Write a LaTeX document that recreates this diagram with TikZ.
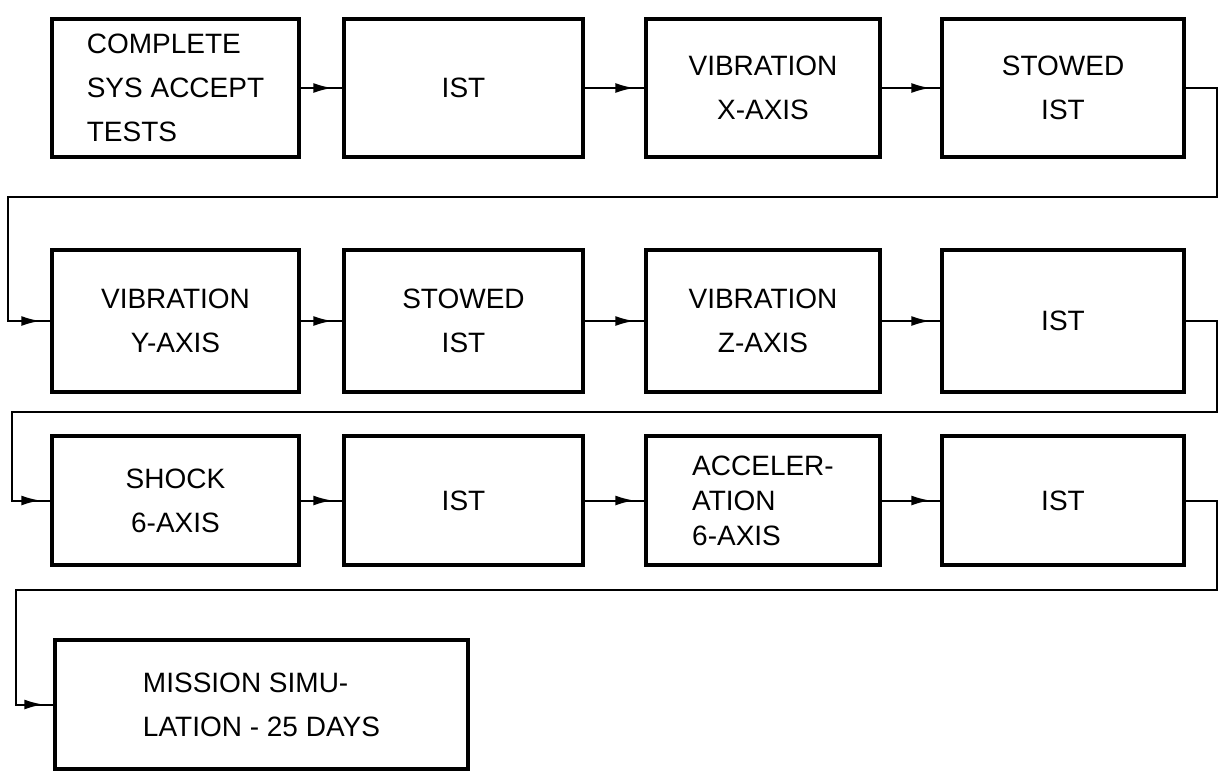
\documentclass[tikz,border=0pt]{standalone}
\usepackage{fontspec}
\setmainfont{Liberation Sans}
\usetikzlibrary{arrows.meta,positioning,decorations.markings}

\begin{document}
\begin{tikzpicture}[x=1pt,y=-1pt,font=\fontsize{28}{44}\selectfont,test/.style={draw,line width=3.5pt,align=center,minimum width=240pt,minimum height=138pt,inner sep=4pt},flow/.style={line width=2pt,decoration={markings,mark=at position -10pt with {\arrow{Latex[length=19pt,width=10pt]}}},postaction={decorate}}]
\useasboundingbox (0,0) rectangle (1222,771);
% first row
\node[test,align=left,minimum width=247pt] (accept) at (175.5,88){COMPLETE\\SYS ACCEPT\\TESTS};
\node[test,minimum width=239pt] (ist1) at (463.5,88){IST};
\node[test,minimum width=234pt] (vibx) at (763,88){VIBRATION\\X-AXIS};
\node[test,minimum width=242pt] (stow1) at (1063,88){STOWED\\IST};
% second row
\node[test,minimum width=247pt,minimum height=142pt] (viby) at (175.5,321){VIBRATION\\Y-AXIS};
\node[test,minimum width=239pt,minimum height=142pt] (stow2) at (463.5,321){STOWED\\IST};
\node[test,minimum width=234pt,minimum height=142pt] (vibz) at (763,321){VIBRATION\\Z-AXIS};
\node[test,minimum width=242pt,minimum height=142pt] (ist2) at (1063,321){IST};
% third row
\node[test,minimum width=247pt,minimum height=129pt] (shock) at (175.5,500.5){SHOCK\\6-AXIS};
\node[test,minimum width=239pt,minimum height=129pt] (ist3) at (463.5,500.5){IST};
\node[test,align=left,minimum width=234pt,minimum height=129pt,font=\fontsize{28}{35}\selectfont] (accel) at (763,500.5){ACCELER-\\ATION\\6-AXIS};
\node[test,minimum width=242pt,minimum height=129pt] (ist4) at (1063,500.5){IST};
% last row
\node[test,align=left,minimum width=413pt,minimum height=129pt] (mission) at (261.5,704.5){MISSION SIMU-\\LATION - 25 DAYS};
% turn points
\coordinate (r1) at (1217,197);\coordinate (l1) at (8,197);
\coordinate (r2) at (1217,412);\coordinate (l2) at (12,412);
\coordinate (r3) at (1217,590);\coordinate (l3) at (16,590);
\draw[flow] (accept) -- (ist1);\draw[flow] (ist1) -- (vibx);\draw[flow] (vibx) -- (stow1);
\draw[flow] (stow1.east) -| (r1) -- (l1) |- (viby.west);
\draw[flow] (viby) -- (stow2);\draw[flow] (stow2) -- (vibz);\draw[flow] (vibz) -- (ist2);
\draw[flow] (ist2.east) -| (r2) -- (l2) |- (shock.west);
\draw[flow] (shock) -- (ist3);\draw[flow] (ist3) -- (accel);\draw[flow] (accel) -- (ist4);
\draw[flow] (ist4.east) -| (r3) -- (l3) |- (mission.west);
\end{tikzpicture}
\end{document}
